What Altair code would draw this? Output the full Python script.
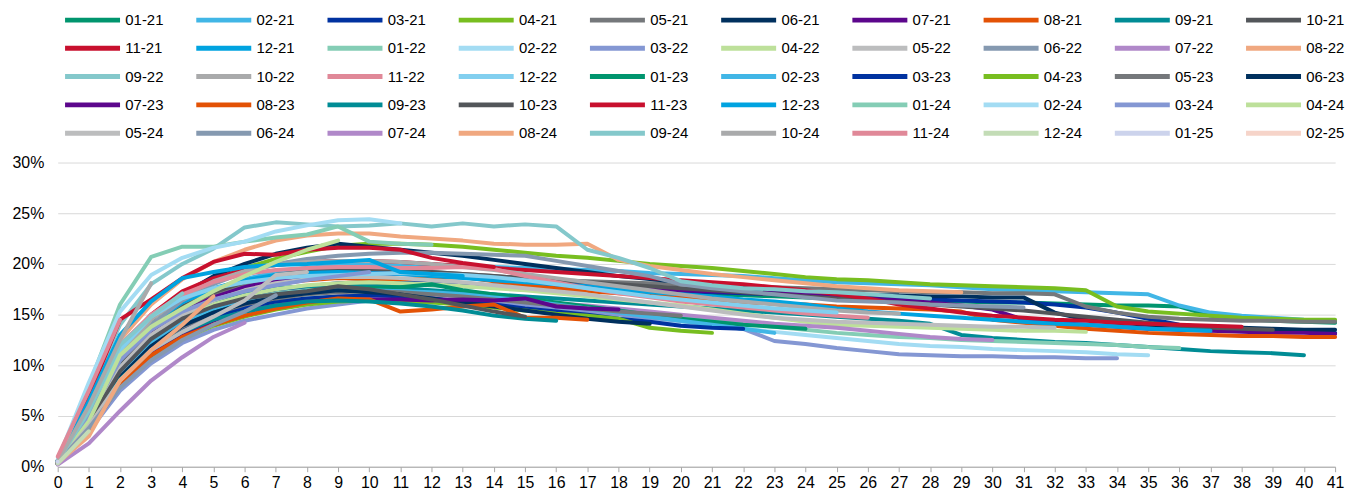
import altair as alt
import pandas as pd

# ---- series values (%), index = months since origination ----
s_01_21 = [0.5,4.5,9.5,12.5,14.5,15.8,16.6,17.2,17.5,17.8,17.9,18.0,17.9,17.8,17.7,17.6,17.5,17.4,17.3,17.2,17.1,17.0,16.9,16.8,16.7,16.6,16.5,16.4,16.4,16.3,16.2,16.2,16.1,16.0,15.9,15.9,15.8,14.9,14.6,14.4,14.3,14.2]
s_02_21 = [0.6,5.0,10.5,13.8,16.0,17.5,18.5,19.2,19.6,19.9,20.0,20.0,19.9,19.8,19.7,19.6,19.5,19.4,19.3,19.1,19.0,18.9,18.8,18.6,18.4,18.2,18.1,18.0,17.9,17.7,17.5,17.4,17.3,17.2,17.1,17.0,15.9,15.2,14.9,14.7,14.5,14.4]
s_03_21 = [0.4,4.0,9.0,12.0,14.2,15.6,16.6,17.3,17.8,18.1,18.2,18.2,18.1,18.0,17.9,17.8,17.7,17.6,17.5,17.4,17.3,17.2,17.1,17.0,16.9,16.8,16.7,16.6,16.5,16.4,16.3,16.2,16.0,15.7,15.2,14.6,14.0,13.7,13.5,13.4,13.3,13.2]
s_04_21 = [0.5,5.5,11.0,14.5,16.8,18.4,19.6,20.5,21.2,21.8,22.0,22.0,21.9,21.7,21.4,21.1,20.8,20.6,20.3,20.0,19.8,19.6,19.3,19.0,18.7,18.5,18.4,18.2,18.0,17.9,17.8,17.7,17.6,17.4,15.8,15.3,15.1,14.9,14.7,14.6,14.5,14.5]
s_05_21 = [0.5,4.8,10.0,13.3,15.5,17.0,18.0,18.7,19.1,19.3,19.4,19.3,19.2,19.0,18.8,18.6,18.4,18.3,18.2,18.1,18.0,17.9,17.8,17.7,17.6,17.5,17.4,17.3,17.2,17.2,17.1,17.1,17.0,15.8,15.2,14.8,14.6,14.5,14.4,14.4,14.3,14.3]
s_06_21 = [0.5,5.0,10.5,14.5,17.0,18.8,20.0,21.0,21.6,22.0,21.7,21.4,21.1,20.8,20.4,20.0,19.6,19.2,18.8,18.5,18.2,17.9,17.6,17.4,17.2,17.0,16.9,16.9,16.8,16.8,16.7,16.7,15.2,14.5,14.2,14.0,13.9,13.8,13.7,13.6,13.5,13.5]
s_07_21 = [0.4,4.5,9.8,13.0,15.2,16.7,17.7,18.4,18.8,19.0,19.1,19.0,18.9,18.7,18.5,18.3,18.1,17.9,17.7,17.5,17.4,17.3,17.2,17.1,17.0,16.8,16.6,16.4,16.2,15.9,15.5,14.5,14.2,14.0,13.8,13.6,13.5,13.4,13.3,13.2,13.2,13.1]
s_08_21 = [0.4,4.2,9.2,12.5,14.8,16.3,17.3,18.0,18.4,18.6,18.5,18.5,18.6,18.7,18.3,17.9,17.6,17.3,17.1,16.9,16.7,16.4,16.2,16.1,16.0,15.8,15.7,15.6,15.5,15.3,14.5,14.2,13.9,13.6,13.4,13.2,13.1,13.0,12.9,12.9,12.8,12.8]
s_09_21 = [0.5,4.5,9.5,12.8,15.0,16.3,17.1,17.6,17.8,17.9,17.8,17.6,17.4,17.2,17.0,16.8,16.6,16.4,16.2,16.0,15.8,15.6,15.4,15.2,15.0,14.8,14.6,14.4,14.1,13.0,12.7,12.5,12.3,12.2,12.0,11.8,11.6,11.4,11.3,11.2,11.0]
s_10_21 = [0.5,4.8,10.2,13.6,15.8,17.2,18.2,18.9,19.3,19.5,19.5,19.4,19.2,19.0,18.8,18.6,18.4,18.2,18.0,17.8,17.6,17.4,17.2,17.0,16.8,16.6,16.4,16.2,16.0,15.8,15.6,15.4,15.1,14.8,14.5,14.2,13.9,13.7,13.6,13.5]
s_11_21 = [0.5,5.5,11.5,15.0,17.3,18.6,19.4,19.9,20.2,20.3,20.3,20.2,20.0,19.8,19.6,19.4,19.2,19.0,18.8,18.6,18.4,18.2,18.0,17.7,17.4,17.0,16.6,16.0,15.6,15.2,14.9,14.7,14.5,14.4,14.2,14.1,14.0,13.9,13.8]
s_12_21 = [0.5,5.0,10.5,14.0,16.2,17.6,18.4,18.9,19.1,19.2,19.1,19.0,18.8,18.6,18.4,18.2,18.0,17.8,17.5,17.2,17.0,16.8,16.5,16.3,16.0,15.6,15.3,15.1,14.9,14.7,14.5,14.3,14.1,14.0,13.8,13.6,13.5,13.4]
s_01_22 = [0.4,4.0,9.0,12.0,14.2,15.6,16.5,17.1,17.4,17.5,17.5,17.3,17.1,16.8,16.5,16.2,15.9,15.6,15.3,15.0,14.7,14.4,14.1,13.8,13.5,13.2,13.0,12.8,12.7,12.5,12.4,12.3,12.2,12.1,12.0,11.8,11.7]
s_02_22 = [0.4,4.0,8.8,11.8,13.8,15.1,15.9,16.4,16.7,16.8,16.8,16.7,16.5,16.3,16.0,15.7,15.4,15.1,14.8,14.5,14.2,13.9,13.6,13.3,13.0,12.7,12.4,12.1,11.9,11.8,11.6,11.5,11.4,11.3,11.1,11.0]
s_03_22 = [0.3,3.5,7.5,10.2,12.2,13.5,14.4,15.0,15.6,16.0,16.4,16.5,16.4,16.3,16.1,15.9,15.6,15.3,15.0,14.7,14.4,14.0,13.6,12.4,12.1,11.7,11.4,11.1,11.0,10.9,10.9,10.8,10.8,10.7,10.7]
s_04_22 = [0.5,4.5,9.5,12.6,14.6,16.0,16.9,17.5,17.9,18.1,18.2,18.1,18.0,17.8,17.6,17.4,17.1,16.8,16.5,16.2,15.9,15.5,15.1,14.7,14.3,14.0,13.9,13.8,13.7,13.6,13.5,13.4,13.4,13.3]
s_05_22 = [0.5,4.6,9.8,13.0,15.0,16.4,17.4,18.1,18.5,18.7,18.7,18.6,18.4,18.2,17.9,17.6,17.3,17.0,16.6,16.2,15.8,15.4,15.0,14.7,14.5,14.3,14.2,14.1,14.0,13.9,13.8,13.8,13.7]
s_06_22 = [0.5,5.0,10.5,14.0,16.4,18.0,19.2,20.0,20.5,20.8,21.0,21.1,21.1,21.0,20.9,20.8,20.3,19.8,19.3,18.8,18.0,17.6,17.3,17.0,16.7,16.4,16.3,16.2,16.0,15.9,15.8,15.7]
s_07_22 = [0.4,3.8,8.2,11.2,13.2,14.6,15.5,16.1,16.5,16.8,16.9,16.9,16.8,16.7,16.5,16.3,16.1,15.9,15.6,15.3,15.0,14.7,14.4,14.1,13.9,13.7,13.4,13.1,12.8,12.6,12.5]
s_08_22 = [0.6,6.0,12.5,16.0,18.5,20.2,21.4,22.3,22.8,23.0,23.0,22.7,22.5,22.3,22.0,21.9,21.9,22.0,20.4,19.8,19.4,19.0,18.7,18.4,18.1,17.8,17.6,17.4,17.3,17.2]
s_09_22 = [0.6,7.0,14.0,18.0,20.0,21.5,23.6,24.1,23.9,23.7,23.8,24.0,23.7,24.0,23.7,23.9,23.7,21.4,20.6,19.6,18.3,17.9,17.6,17.5,17.3,17.2,17.0,16.8,16.6]
s_10_22 = [0.5,5.2,11.0,14.5,16.8,18.3,19.3,19.9,20.2,20.3,20.3,20.2,20.0,19.7,19.4,19.0,18.6,18.2,17.8,17.4,17.0,16.6,16.3,16.0,15.7,15.4,15.2,15.1]
s_11_22 = [0.6,6.0,12.0,15.0,17.0,18.2,19.0,19.4,19.6,19.7,19.7,19.6,19.6,19.7,19.5,18.8,18.2,17.6,17.1,16.7,16.3,16.0,15.7,15.4,15.1,14.9,14.7]
s_12_22 = [0.5,5.5,11.5,14.8,16.6,17.6,18.2,18.6,18.8,18.9,19.0,19.1,19.0,18.9,18.7,18.4,18.0,17.6,17.2,16.8,16.5,16.2,15.9,15.6,15.4,15.2]
s_01_23 = [0.4,4.2,9.0,12.0,14.0,15.4,16.3,16.9,17.3,17.5,17.6,17.7,18.0,17.4,17.0,16.6,16.2,15.8,15.4,15.0,14.6,14.3,14.0,13.8,13.6]
s_02_23 = [0.4,4.2,9.2,12.3,14.3,15.6,16.5,17.0,17.3,17.4,17.4,17.3,17.2,17.0,16.7,16.4,16.0,15.6,15.2,14.8,14.4,14.0,13.6,13.2]
s_03_23 = [0.3,3.8,8.5,11.5,13.5,14.8,15.7,16.3,16.6,16.8,16.9,16.8,16.6,16.3,16.0,15.6,15.3,15.0,14.6,14.3,13.9,13.7,13.6]
s_04_23 = [0.3,3.6,8.0,10.8,12.6,13.9,14.8,15.5,16.0,16.3,16.4,16.3,16.2,16.0,15.7,15.4,15.1,14.9,14.6,13.7,13.4,13.2]
s_05_23 = [0.4,4.0,8.8,11.8,13.8,15.1,16.0,16.6,17.0,17.2,17.3,17.2,17.0,16.8,16.5,16.2,15.9,15.6,15.3,15.1,14.9]
s_06_23 = [0.4,4.0,8.8,11.9,13.9,15.2,16.1,16.7,17.1,17.4,17.2,17.0,16.6,16.2,15.8,15.4,15.0,14.6,14.3,14.1]
s_07_23 = [0.3,3.6,8.0,11.0,13.0,14.4,15.3,15.9,16.3,16.5,16.5,16.5,16.4,16.5,16.4,16.6,15.8,15.6,15.5]
s_08_23 = [0.3,3.8,8.2,11.0,12.8,14.0,14.9,15.6,16.2,16.6,16.5,15.3,15.5,15.8,16.0,14.7,14.7,14.5]
s_09_23 = [0.3,4.0,8.6,11.5,13.3,14.5,15.3,15.9,16.3,16.4,16.3,16.1,15.8,15.4,14.9,14.6,14.4]
s_10_23 = [0.4,4.3,9.4,12.6,14.6,15.8,16.6,17.0,17.3,17.8,17.5,17.0,16.5,15.9,15.3,14.8]
s_11_23 = [0.6,7.0,14.5,16.5,18.6,20.2,21.0,20.9,21.4,21.6,21.6,21.4,20.6,20.1,19.7]
s_12_23 = [0.6,6.5,13.0,16.3,18.6,19.2,19.7,19.9,20.0,20.2,20.4,19.2,19.0,18.8]
s_01_24 = [0.6,8.0,16.0,20.7,21.7,21.7,22.2,22.6,22.9,23.7,22.2,22.0,21.9]
s_02_24 = [0.7,8.3,15.3,18.9,20.6,21.6,22.2,23.2,23.8,24.3,24.4,24.0]
s_03_24 = [0.5,5.0,10.5,13.5,15.3,16.5,17.3,17.9,18.4,18.8,19.2]
s_04_24 = [0.4,4.5,11.0,13.8,15.6,17.3,18.8,20.2,21.4,22.3]
s_05_24 = [0.4,4.0,8.5,11.5,13.3,14.8,16.4,18.9,19.2]
s_06_24 = [0.4,3.8,7.8,10.5,12.5,14.0,15.3,16.9]
s_07_24 = [0.2,2.3,5.5,8.5,10.8,12.8,14.2]
s_08_24 = [0.4,3.0,8.5,11.5,14.0,16.8]
s_09_24 = [0.5,5.5,12.0,14.8,17.1]
s_10_24 = [0.5,6.0,12.5,18.1]
s_11_24 = [1.0,7.5,14.5]
s_12_24 = [0.3,3.5]
s_01_25 = [0.5]
s_02_25 = []

names = ["01-21","02-21","03-21","04-21","05-21","06-21","07-21","08-21","09-21","10-21",
         "11-21","12-21","01-22","02-22","03-22","04-22","05-22","06-22","07-22","08-22",
         "09-22","10-22","11-22","12-22","01-23","02-23","03-23","04-23","05-23","06-23",
         "07-23","08-23","09-23","10-23","11-23","12-23","01-24","02-24","03-24","04-24",
         "05-24","06-24","07-24","08-24","09-24","10-24","11-24","12-24","01-25","02-25"]

series = [s_01_21,s_02_21,s_03_21,s_04_21,s_05_21,s_06_21,s_07_21,s_08_21,s_09_21,s_10_21,
          s_11_21,s_12_21,s_01_22,s_02_22,s_03_22,s_04_22,s_05_22,s_06_22,s_07_22,s_08_22,
          s_09_22,s_10_22,s_11_22,s_12_22,s_01_23,s_02_23,s_03_23,s_04_23,s_05_23,s_06_23,
          s_07_23,s_08_23,s_09_23,s_10_23,s_11_23,s_12_23,s_01_24,s_02_24,s_03_24,s_04_24,
          s_05_24,s_06_24,s_07_24,s_08_24,s_09_24,s_10_24,s_11_24,s_12_24,s_01_25,s_02_25]

full = ["#00956e","#41b6e6","#0032a0","#78be20","#75787b","#00305e",
        "#5c068c","#e35205","#008c95","#53565a","#c8102e","#00a3e0"]
light = ["#84cdb5","#a3dcf3","#8497d3","#bde09a","#bcbdbe","#8599b0",
         "#b088c9","#f0a880","#84c8cb","#a9aaab","#e08898","#82cfef"]
pale = ["#c3dcb6","#ccd3ec","#f6d4c9"]
colors = full + light + full + light[:11] + pale

rows = []
for k, (n, vals) in enumerate(zip(names, series)):
    for i, v in enumerate(vals):
        rows.append({"series": n, "k": k, "x": i, "value": v})
df = pd.DataFrame(rows)

FONT = "Liberation Sans"

chart = alt.Chart(df).mark_line(
    strokeWidth=4, strokeCap="round", strokeJoin="round"
).encode(
    x=alt.X("x:Q", scale=alt.Scale(domain=[0, 41], nice=False, zero=False),
            axis=alt.Axis(values=list(range(42)), title=None, grid=False,
                          domainColor="#a6a6a6", tickColor="#a6a6a6", tickSize=5,
                          labelPadding=3, labelFontSize=16, labelFont=FONT,
                          labelColor="#000000", labelFlush=False)),
    y=alt.Y("value:Q", scale=alt.Scale(domain=[0, 30], nice=False),
            axis=alt.Axis(values=[0, 5, 10, 15, 20, 25, 30], title=None,
                          labelExpr="datum.value + '%'", domain=False, ticks=False,
                          gridColor="#d9d9d9", gridWidth=1, labelPadding=14,
                          labelFontSize=16, labelFont=FONT, labelColor="#000000")),
    color=alt.Color("series:N", sort=names,
                    scale=alt.Scale(domain=names, range=colors),
                    legend=alt.Legend(title=None, orient="none", legendX=7, legendY=-153,
                                      columns=10, direction="horizontal",
                                      symbolType="M-1.3,0L6.6,0", symbolStrokeWidth=5,
                                      symbolSize=196, labelFontSize=15, labelFont=FONT,
                                      labelColor="#000000", labelOffset=42,
                                      columnPadding=22, rowPadding=7.5,
                                      symbolLimit=60, labelLimit=0)),
    detail="k:O",
).properties(
    width=1285, height=306,
    autosize=alt.AutoSizeParams(type="none"),
    padding={"left": 50, "top": 154, "right": 19, "bottom": 28},
).configure_view(stroke=None)

chart.save("out.html", embed_options={"renderer": "svg", "actions": False})
